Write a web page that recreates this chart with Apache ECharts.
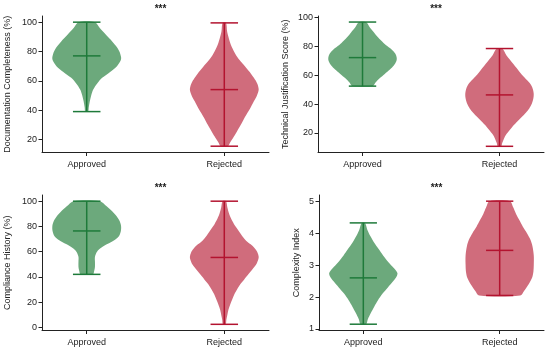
<!DOCTYPE html>
<html>
<head>
<meta charset="utf-8">
<script src="https://cdn.jsdelivr.net/npm/echarts@6/dist/echarts.min.js"></script>
<style>html,body{margin:0;padding:0;background:#fff}#c{width:550px;height:351px}</style>
</head>
<body>
<div id="c"></div>
<script>
// ---------- data ----------
const categories = ['Approved', 'Rejected'];
const metricNames = ['Documentation Completeness (%)', 'Technical Justification Score (%)', 'Compliance History (%)', 'Complexity Index'];
const significance = ['***', '***', '***', '***'];
const yTicks = [[20, 40, 60, 80, 100], [20, 40, 60, 80, 100], [0, 20, 40, 60, 80, 100], [1, 2, 3, 4, 5]];
const yLimits = [[11.1, 104.2], [6.4, 101.2], [-2.5, 104.9], [0.953, 5.193]];

// stats: [min, median, max]
const docStats = [[39, 77, 100], [15.4, 54, 99.5]];
const techStats = [[52.5, 72.3, 97], [10.7, 46.4, 78.6]];
const compStats = [[42, 76.4, 100], [2.4, 55.4, 100]];
const cplxStats = [[1.15, 2.6, 4.32], [2.05, 3.46, 5.0]];

// density profiles: [value, relative width]
const docApproved = [[39,0.04],[42,0.06],[46,0.09],[50,0.13],[54,0.19],[58,0.3],[62,0.45],[66,0.68],[70,0.88],[74,0.99],[76,1.0],[80,0.95],[84,0.84],[88,0.7],[92,0.54],[96,0.38],[100,0.24]];
const docRejected = [[15.4,0.1],[18,0.17],[22,0.28],[26,0.38],[30,0.48],[34,0.57],[38,0.67],[42,0.77],[46,0.86],[50,0.95],[54,1.0],[58,0.96],[62,0.86],[66,0.74],[70,0.6],[74,0.45],[78,0.33],[82,0.24],[86,0.17],[90,0.12],[94,0.08],[99.5,0.05]];
const techApproved = [[52.5,0.3],[55,0.38],[58,0.5],[61,0.65],[64,0.8],[67,0.92],[70,0.99],[72,1.0],[75,0.96],[78,0.85],[81,0.68],[84,0.55],[87,0.43],[90,0.33],[93,0.22],[97,0.1]];
const techRejected = [[10.7,0.05],[13,0.08],[16,0.13],[19,0.2],[22,0.3],[25,0.4],[28,0.52],[31,0.65],[34,0.77],[37,0.87],[40,0.94],[44,0.99],[47,1.0],[50,0.98],[53,0.93],[56,0.83],[59,0.71],[62,0.6],[65,0.5],[68,0.4],[71,0.3],[74,0.2],[78.6,0.08]];
const compApproved = [[42,0.18],[45,0.22],[48,0.24],[52,0.24],[56,0.24],[60,0.3],[63,0.42],[66,0.6],[69,0.8],[72,0.93],[76,0.99],[80,1.0],[84,0.96],[88,0.87],[92,0.74],[96,0.58],[100,0.38]];
const compRejected = [[2.4,0.04],[6,0.06],[10,0.09],[14,0.12],[18,0.17],[22,0.23],[26,0.29],[30,0.37],[34,0.46],[38,0.58],[42,0.7],[46,0.82],[50,0.93],[54,0.99],[56,1.0],[59,0.97],[62,0.9],[65,0.8],[68,0.66],[71,0.56],[74,0.48],[78,0.38],[82,0.28],[86,0.2],[90,0.14],[95,0.09],[100,0.05]];
const cplxApproved = [[1.15,0.08],[1.3,0.13],[1.5,0.22],[1.7,0.32],[1.9,0.43],[2.1,0.56],[2.3,0.72],[2.5,0.88],[2.65,0.98],[2.75,1.0],[2.9,0.9],[3.1,0.73],[3.3,0.58],[3.5,0.45],[3.7,0.32],[3.9,0.21],[4.1,0.12],[4.32,0.05]];
const cplxRejected = [[2.05,0.6],[2.2,0.72],[2.4,0.85],[2.6,0.95],[2.8,0.99],[3.0,1.0],[3.3,1.0],[3.6,0.96],[3.8,0.9],[4.0,0.8],[4.2,0.68],[4.4,0.58],[4.6,0.48],[4.8,0.4],[5.0,0.3]];

const panelProfiles = [[docApproved, docRejected], [techApproved, techRejected], [compApproved, compRejected], [cplxApproved, cplxRejected]];
const panelStats = [docStats, techStats, compStats, cplxStats];

// ---------- style ----------
const fillColors = ['#6ca97c', '#d06c7c'];
const lineColors = ['#1e7a3a', '#b3132f'];
const HALF = 0.25, CAP = 0.1;
const grids = [
  {left: 42, top: 16, width: 227, height: 136.5},
  {left: 318, top: 16, width: 226, height: 136.5},
  {left: 42, top: 195, width: 227, height: 135.5},
  {left: 319, top: 195, width: 225, height: 135.5}
];
const nameGaps = [30, 28, 30, 18];
const axisColor = '#222';
const font = 'Liberation Sans, Arial, sans-serif';

const chart = echarts.init(document.getElementById('c'), null, {renderer: 'canvas'});

function makeRender(p) {
  return function (params, api) {
    const i = params.dataIndex;
    const prof = panelProfiles[p][i];
    const st = panelStats[p][i];
    const pts = [];
    for (let k = 0; k < prof.length; k++) pts.push(api.coord([i + prof[k][1] * HALF, prof[k][0]]));
    for (let k = prof.length - 1; k >= 0; k--) pts.push(api.coord([i - prof[k][1] * HALF, prof[k][0]]));
    const ls = {stroke: lineColors[i], lineWidth: 1.5};
    const seg = (x1, y1, x2, y2) => {
      const a = api.coord([x1, y1]), b = api.coord([x2, y2]);
      return {type: 'line', shape: {x1: a[0], y1: a[1], x2: b[0], y2: b[1]}, style: ls};
    };
    return {
      type: 'group',
      children: [
        {type: 'polygon', shape: {points: pts, smooth: 0.3}, style: {fill: fillColors[i]}},
        seg(i, st[0], i, st[2]),
        seg(i - CAP, st[0], i + CAP, st[0]),
        seg(i - CAP, st[2], i + CAP, st[2]),
        seg(i - CAP, st[1], i + CAP, st[1])
      ]
    };
  };
}

const option = {
  animation: false,
  backgroundColor: '#fff',
  title: grids.map((g, p) => ({
    text: significance[p],
    left: g.left + g.width / 2,
    top: g.top - 17,
    textAlign: 'center',
    textStyle: {fontSize: 10, fontWeight: 'bold', color: '#222', fontFamily: font}
  })),
  grid: grids,
  xAxis: grids.map((g, p) => ({
    type: 'value', gridIndex: p, min: -0.325, max: 1.325,
    splitLine: {show: false},
    axisLine: {show: true, onZero: false, lineStyle: {color: axisColor, width: 1}},
    axisTick: {show: true, length: 3.5, lineStyle: {color: axisColor}, customValues: [0, 1]},
    axisLabel: {customValues: [0, 1], formatter: v => categories[Math.round(v)], fontSize: 9, color: '#222', fontFamily: font, margin: 8}
  })),
  yAxis: grids.map((g, p) => ({
    type: 'value', gridIndex: p, min: yLimits[p][0], max: yLimits[p][1],
    name: metricNames[p], nameLocation: 'middle', nameGap: nameGaps[p], nameRotate: 90,
    nameTextStyle: {fontSize: 9, color: '#222', fontFamily: font},
    splitLine: {show: false},
    axisLine: {show: true, onZero: false, lineStyle: {color: axisColor, width: 1}},
    axisTick: {show: true, length: 3.5, lineStyle: {color: axisColor}, customValues: yTicks[p]},
    axisLabel: {customValues: yTicks[p], fontSize: 9, color: '#222', fontFamily: font, margin: 5}
  })),
  series: grids.map((g, p) => ({
    type: 'custom', xAxisIndex: p, yAxisIndex: p,
    renderItem: makeRender(p),
    data: categories.map((c, i) => [i, panelStats[p][i][1]]),
    clip: false
  }))
};
chart.setOption(option);
</script>
</body>
</html>
